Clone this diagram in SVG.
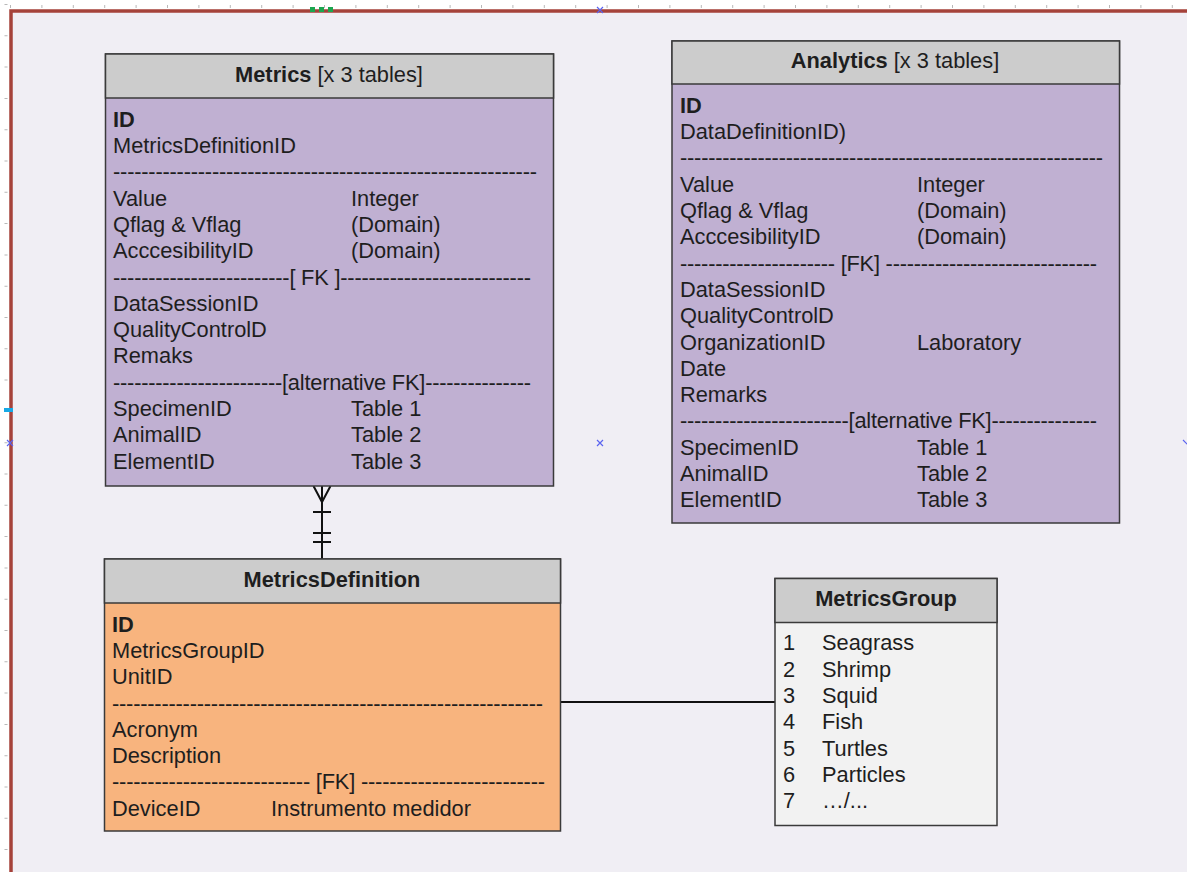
<svg xmlns="http://www.w3.org/2000/svg" width="1187" height="872" viewBox="0 0 1187 872">
<style>
text{font-family:"Liberation Sans",Arial,sans-serif;font-size:21.8px;fill:#1e1e1e}
.b{font-weight:bold}
.ttl{text-anchor:middle}
.bx{stroke:#3a3a3a;stroke-width:1.5}
.hd{fill:#cccccc}
.lav{fill:#c0b0d2}
.org{fill:#f8b47e}
.gry{fill:#f2f2f2}
.cn{stroke:#111;stroke-width:2;fill:none}
.mk{stroke:#5a63f0;stroke-width:1.2;fill:none}
</style>
<rect x="0" y="0" width="1187" height="872" fill="#ffffff"/>
<rect x="11" y="11" width="1200" height="900" fill="#f0eef4" stroke="#a5423a" stroke-width="3.5"/>
<line x1="10" y1="6.5" x2="1187" y2="6.5" stroke="#b8b8b8" stroke-width="3" stroke-dasharray="1 30.4"/>
<line x1="6" y1="4" x2="6" y2="872" stroke="#b8b8b8" stroke-width="3" stroke-dasharray="1 30.3"/>
<g fill="#1ca650"><rect x="310" y="7" width="5" height="5"/><rect x="319" y="7" width="5" height="5"/><rect x="328" y="7" width="5" height="5"/></g>
<rect x="4" y="408" width="9" height="4" fill="#17a9e6"/>
<path class="mk" d="M597 7l6 6M603 7l-6 6M7 440l6 6M13 440l-6 6M597 440l6 6M603 440l-6 6M1183 440l6 6"/>

<g id="connectors">
<line class="cn" x1="322" y1="486" x2="322" y2="559"/>
<path class="cn" d="M313.5 486L322 502L330.5 486M313 512H331M313 533H331M313 542H331"/>
<line class="cn" x1="561" y1="702" x2="775" y2="702"/>
</g>

<g id="metrics">
<rect class="bx lav" x="105.5" y="54" width="448" height="432"/>
<rect class="bx hd" x="105.5" y="54" width="448" height="44"/>
<text class="ttl" x="329" y="82"><tspan class="b">Metrics</tspan> [x 3 tables]</text>
<text class="b" x="113" y="127">ID</text>
<text x="113" y="153">MetricsDefinitionID</text>
<text x="113" y="179" textLength="424" lengthAdjust="spacing">------------------------------------------------------------</text>
<text x="113" y="206">Value</text><text x="351" y="206">Integer</text>
<text x="113" y="232">Qflag &amp; Vflag</text><text x="351" y="232">(Domain)</text>
<text x="113" y="258">AcccesibilityID</text><text x="351" y="258">(Domain)</text>
<text x="113" y="285" textLength="418" lengthAdjust="spacing">-------------------------[ FK ]---------------------------</text>
<text x="113" y="311">DataSessionID</text>
<text x="113" y="337">QualityControlD</text>
<text x="113" y="363">Remaks</text>
<text x="113" y="390" textLength="418" lengthAdjust="spacing">------------------------[alternative FK]---------------</text>
<text x="113" y="416">SpecimenID</text><text x="351" y="416">Table 1</text>
<text x="113" y="442">AnimalID</text><text x="351" y="442">Table 2</text>
<text x="113" y="469">ElementID</text><text x="351" y="469">Table 3</text>
</g>

<g id="analytics">
<rect class="bx lav" x="672" y="41" width="447.5" height="482"/>
<rect class="bx hd" x="672" y="41" width="447.5" height="43"/>
<text class="ttl" x="895" y="68"><tspan class="b">Analytics</tspan> [x 3 tables]</text>
<text class="b" x="680" y="113">ID</text>
<text x="680" y="139">DataDefinitionID)</text>
<text x="680" y="165" textLength="423" lengthAdjust="spacing">------------------------------------------------------------</text>
<text x="680" y="192">Value</text><text x="917" y="192">Integer</text>
<text x="680" y="218">Qflag &amp; Vflag</text><text x="917" y="218">(Domain)</text>
<text x="680" y="244">AcccesibilityID</text><text x="917" y="244">(Domain)</text>
<text x="680" y="271" textLength="417" lengthAdjust="spacing">---------------------- [FK] ------------------------------</text>
<text x="680" y="297">DataSessionID</text>
<text x="680" y="323">QualityControlD</text>
<text x="680" y="349.5">OrganizationID</text><text x="917" y="349.5">Laboratory</text>
<text x="680" y="376">Date</text>
<text x="680" y="402">Remarks</text>
<text x="680" y="428" textLength="417" lengthAdjust="spacing">------------------------[alternative FK]---------------</text>
<text x="680" y="455">SpecimenID</text><text x="917" y="455">Table 1</text>
<text x="680" y="481">AnimalID</text><text x="917" y="481">Table 2</text>
<text x="680" y="507">ElementID</text><text x="917" y="507">Table 3</text>
</g>

<g id="metricsdefinition">
<rect class="bx org" x="104.5" y="559" width="456" height="272"/>
<rect class="bx hd" x="104.5" y="559" width="456" height="44"/>
<text class="ttl b" x="332" y="587">MetricsDefinition</text>
<text class="b" x="112" y="631.5">ID</text>
<text x="112" y="658">MetricsGroupID</text>
<text x="112" y="684">UnitID</text>
<text x="112" y="710.5" textLength="431" lengthAdjust="spacing">-------------------------------------------------------------</text>
<text x="112" y="736.5">Acronym</text>
<text x="112" y="763">Description</text>
<text x="112" y="789" textLength="433" lengthAdjust="spacing">---------------------------- [FK] --------------------------</text>
<text x="112" y="815.5">DeviceID</text><text x="271" y="815.5">Instrumento medidor</text>
</g>

<g id="metricsgroup">
<rect class="bx gry" x="775" y="578.5" width="222" height="247"/>
<rect class="bx hd" x="775" y="578.5" width="222" height="44"/>
<text class="ttl b" x="886" y="606">MetricsGroup</text>
<text x="783" y="650">1</text><text x="822" y="650">Seagrass</text>
<text x="783" y="676.5">2</text><text x="822" y="676.5">Shrimp</text>
<text x="783" y="703">3</text><text x="822" y="703">Squid</text>
<text x="783" y="729">4</text><text x="822" y="729">Fish</text>
<text x="783" y="755.5">5</text><text x="822" y="755.5">Turtles</text>
<text x="783" y="781.5">6</text><text x="822" y="781.5">Particles</text>
<text x="783" y="808">7</text><text x="822" y="808">…/...</text>
</g>
</svg>
